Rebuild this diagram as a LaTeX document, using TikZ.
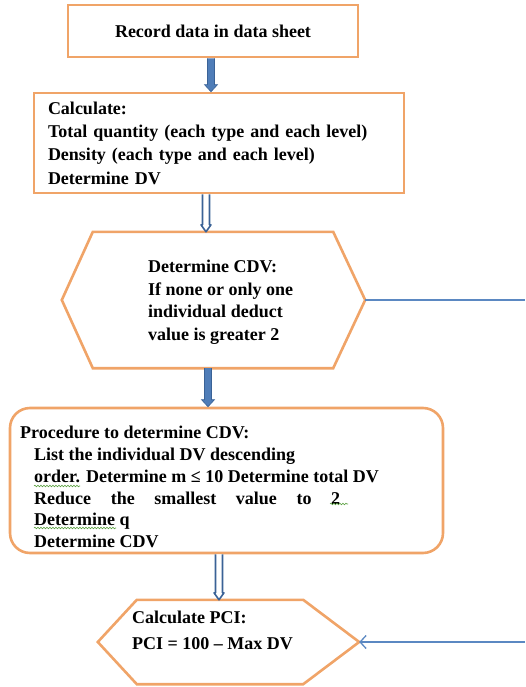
\documentclass[tikz,border=0pt]{standalone}
\usepackage{fontspec}
\setmainfont{Liberation Serif}
\usetikzlibrary{calc,arrows.meta,decorations.pathmorphing}
\definecolor{boxorange}{HTML}{F0A468}
\definecolor{arrowblue}{HTML}{4F7DB8}
\definecolor{arrowdark}{HTML}{3A6296}
\definecolor{linkblue}{HTML}{5B88C2}
\definecolor{squigreen}{HTML}{5AA040}
\newcommand\blockarrow[4]{%
  \draw[#1] let \p1=(#2), \p2=(#3) in
    (\x1-3.5pt,\y1) -- (\x1-3.5pt,\y2+7pt) -- (\x1-#4,\y2+7pt) -- (\x1,\y2)
    -- (\x1+#4,\y2+7pt) -- (\x1+3.5pt,\y2+7pt) -- (\x1+3.5pt,\y1);}
\begin{document}
\begin{tikzpicture}[x=1pt,y=-1pt,
  box/.style={draw=boxorange, line width=2.6pt, fill=white, inner sep=0pt},
  hexline/.style={draw=boxorange, line width=2.6pt, line join=miter},
  txt/.style={font=\fontsize{18}{22.5}\selectfont\bfseries, align=left, inner sep=0pt},
  fatarrow/.style={fill=arrowblue, draw=arrowdark, line width=0.6pt},
  hollowarrow/.style={fill=white, draw=arrowdark, line width=1.6pt, line join=round},
  link/.style={draw=linkblue, line width=1.3pt},
  squig/.style={draw=squigreen, line width=0.6pt, decorate,
    decoration={snake, amplitude=0.8pt, segment length=3pt}}]
\useasboundingbox (0,0) rectangle (525,687);

% box 1
\node[box, txt, align=center, minimum width=290pt, minimum height=52pt] (b1) at (213,31)
  {Record data in data sheet};

% box 2
\node[box, txt, font=\fontsize{18}{23.3}\selectfont\bfseries, minimum width=370pt,
  minimum height=100pt, text width=342pt] (b2) at (219,143)
  {Calculate:\\
   Total quantity (each type and each level)\\
   Density (each type and each level)\\
   Determine DV};

% hexagon 1
\node[minimum width=240pt, minimum height=136pt, inner sep=0pt] (h1) at (213,300) {};
\coordinate (h1e) at ($(h1.east)+(32,0)$);
\coordinate (h1w) at ($(h1.west)+(-31,0)$);
\draw[hexline, fill=white] (h1.north west) -- (h1.north east) -- (h1e) -- (h1.south east)
  -- (h1.south west) -- (h1w) -- cycle;
\node[txt, anchor=west] (h1t) at (148,302)
  {Determine CDV:\\ If none or only one\\ individual deduct\\ value is greater 2};

% box 3
\node[box, rounded corners=20pt, minimum width=433pt, minimum height=145pt] (b3) at (226.5,480.5) {};
\node[txt, font=\fontsize{18}{21.8}\selectfont\bfseries, anchor=west] (b3t) at (20,487)
  {Procedure to determine CDV:\\
   \hspace*{14pt}List the individual DV descending\\
   \hspace*{14pt}order. Determine m ≤ 10 Determine total DV\\
   \hspace*{14pt}\makebox[306pt][s]{Reduce the smallest value to 2}\\
   \hspace*{14pt}Determine q\\
   \hspace*{14pt}Determine CDV};
\draw[squig] (34,486) -- (80,486);
\draw[squig] (330,504) -- (348,504);
\draw[squig] (34,528) -- (116,528);

% hexagon 2
\node[minimum width=166pt, minimum height=84pt, inner sep=0pt] (h2) at (220,642) {};
\coordinate (h2e) at ($(h2.east)+(56,0)$);
\coordinate (h2w) at ($(h2.west)+(-39,0)$);
\draw[hexline, fill=white] (h2.north west) -- (h2.north east) -- (h2e) -- (h2.south east)
  -- (h2.south west) -- (h2w) -- cycle;
\node[txt, font=\fontsize{18}{26}\selectfont\bfseries, anchor=west] (h2t) at (132,630)
  {Calculate PCI:\\ PCI = 100 – Max DV};

% vertical arrows
\coordinate (a1s) at ($(b1.south)+(-2,0)$);
\coordinate (a2s) at ($(b2.south)+(-13,0)$);
\coordinate (a3s) at ($(h1.south)+(-5,0)$);
\coordinate (a4s) at ($(b3.south)+(-7.5,0)$);
\blockarrow{fatarrow}{a1s}{a1s |- b2.north}{6.5pt}
\blockarrow{hollowarrow}{a2s}{a2s |- h1.north}{5pt}
\blockarrow{fatarrow}{a3s}{a3s |- b3.north}{6.5pt}
\blockarrow{hollowarrow}{a4s}{a4s |- h2.north}{5pt}

% right-hand connector
\coordinate (edge) at (525,0);
\draw[link] (h1e) -- (h1e -| edge);
\draw[link, -{Straight Barb[length=6pt, width=13pt]}] (h2e -| edge) -- (h2e);
\end{tikzpicture}
\end{document}
